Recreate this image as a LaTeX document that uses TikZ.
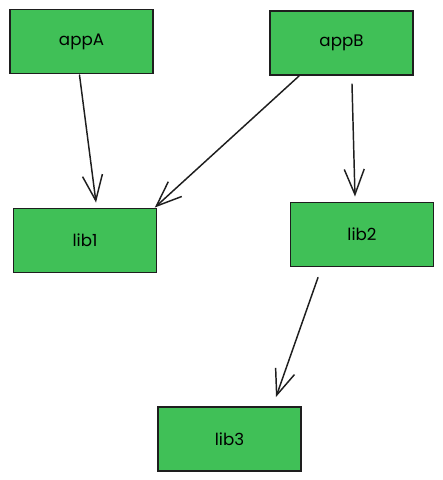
\documentclass[tikz,border=0pt]{standalone}
\usepackage{fontspec}
\usepackage{tikz}
\usetikzlibrary{arrows.meta, calc}
\setmainfont{Poppins}
\definecolor{pkggreen}{RGB}{64, 192, 87}
\definecolor{inkblack}{RGB}{30, 30, 30}

\tikzset{
  pkg/.style={draw=inkblack, line width=1.2pt, fill=pkggreen, minimum width=107pt,
    minimum height=48pt, inner sep=0pt, outer sep=0pt, font=\fontsize{12.5}{14}\selectfont},
  dep/.style={draw=inkblack, line width=1.1pt, line cap=round,
    -{Straight Barb[length=19pt, width=15pt, line width=1.1pt]}}
}

\begin{document}
\begin{tikzpicture}[x=0.75pt, y=-0.75pt]
  \useasboundingbox (0,0) rectangle (443,480);

  \node[pkg] (appA) at (81.5,41.5) {appA};
  \node[pkg] (appB) at (341.5,43) {appB};
  \node[pkg] (lib1) at (85,240.5) {lib1};
  \node[pkg] (lib2) at (362,234.5) {lib2};
  \node[pkg] (lib3) at (229.5,439) {lib3};

  \draw[dep] ($(appA.south)+(-2,1.5)$) -- ($(lib1.north)+(11,-6)$);
  \draw[dep] ($(appB.south)+(-42.5,1)$) -- ($(lib1.north east)+(-1.5,-1)$);
  \draw[dep] ($(appB.south)+(10.5,9)$) -- ($(lib2.north)+(-7,-6)$);
  \draw[dep] ($(lib2.south)+(-44,11)$) -- ($(lib3.north)+(46.5,-10)$);
\end{tikzpicture}
\end{document}
